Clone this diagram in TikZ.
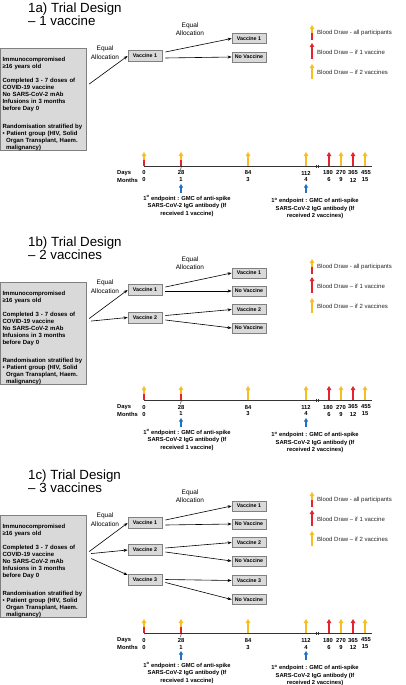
\documentclass[tikz,border=0pt]{standalone}
\usepackage{fontspec}
\setmainfont{Liberation Sans}
\usetikzlibrary{arrows.meta}
\definecolor{bdyellow}{RGB}{247,190,30}
\definecolor{bdred}{RGB}{228,35,45}
\definecolor{epblue}{RGB}{30,115,195}
\definecolor{boxfill}{RGB}{217,217,217}
\definecolor{boxline}{RGB}{128,128,128}
\tikzset{
  mainbox/.style={draw=boxline, fill=boxfill, line width=0.8pt, anchor=north west,
    minimum width=86pt, minimum height=96pt, text width=82.5pt, inner xsep=1.75pt, inner ysep=0pt,
    align=left, font=\fontsize{6.0}{7}\selectfont\bfseries},
  vbox/.style={draw=boxline, fill=boxfill, line width=0.8pt, minimum width=34pt,
    minimum height=11pt, inner sep=0pt, font=\fontsize{5.3}{6}\selectfont\bfseries},
  rbox/.style={vbox, minimum height=10pt},
  flow/.style={-{Stealth[length=4pt,width=3pt]}, line width=0.6pt, black},
  titletext/.style={anchor=base west, inner sep=0pt, font=\fontsize{13.3}{14}\selectfont},
  alloc/.style={align=center, inner sep=0pt, font=\fontsize{6.5}{8.5}\selectfont},
  legtext/.style={anchor=west, inner sep=0pt, font=\fontsize{6}{7}\selectfont, text=black!85},
  tllabel/.style={inner sep=0pt, font=\fontsize{5.8}{7}\selectfont\bfseries},
  eptext/.style={align=center, inner sep=0pt, font=\fontsize{5.8}{7.3}\selectfont\bfseries},
  yarr/.style={draw=bdyellow, line width=1.4pt, -{Triangle[length=4pt,width=4.5pt]}},
  rarr/.style={draw=bdred, line width=1.4pt, -{Triangle[length=4pt,width=4.5pt]}},
  rseg/.style={draw=bdred, line width=1.4pt},
  barr/.style={draw=epblue, line width=1.2pt, -{Triangle[length=3.5pt,width=4pt]}},
}
\newcommand\CommonPart[4]{%
\begin{scope}[shift={(0,#2)}]
  \node[titletext] (#1-t1) at (28,12.5) {#3};
  \node[titletext] (#1-t2) at (28,25.5) {#4};
  % main box
  \node[mainbox] (#1-main) at (0.4,48) {\rule{0pt}{13pt}Immunocompromised\\ ≥16 years old\\[7pt]
    Completed 3 - 7 doses of\\ COVID-19 vaccine\\ No SARS-CoV-2 mAb\\ Infusions in 3 months\\ before Day 0\\[11pt]
    Randomisation stratified by\\ \textbullet\ Patient group (HIV, Solid\\ \hspace*{3.5pt}Organ Transplant, Haem.\\ \hspace*{3.5pt}malignancy)};
  \node[alloc] (#1-al1) at (105,52.5) {Equal\\Allocation};
  \node[alloc] (#1-al2) at (190,29) {Equal\\Allocation};
  % legend
  \draw[rseg] (312,40) -- (312,32.5);
  \draw[yarr] (312,33) -- (312,25);
  \node[legtext] (#1-l1) at (317,33) {Blood Draw - all participants};
  \draw[rarr] (312,59) -- (312,43);
  \node[legtext] (#1-l2) at (317,52) {Blood Draw – if 1 vaccine};
  \draw[yarr] (312,79) -- (312,64);
  \node[legtext] (#1-l3) at (317,72) {Blood Draw – if 2 vaccines};
  % timeline
  \coordinate (#1-tls) at (144,166);
  \coordinate (#1-tle) at (372,166);
  \draw[line width=0.8pt, black!80] (#1-tls) -- (#1-tle);
  \draw[line width=0.5pt, black!80] (181.5,166) -- (180.5,170);
  \draw[line width=0.5pt, black!80] (316.5,164.5) -- (316.5,167.5) (318.5,164.5) -- (318.5,167.5);
  \draw[rseg] (144,166) -- (144,159);
  \draw[yarr] (144,159.5) -- (144,152);
  \draw[rseg] (181,166) -- (181,159);
  \draw[yarr] (181,159.5) -- (181,152);
  \draw[yarr] (248,166) -- (248,152);
  \draw[yarr] (306,166) -- (306,152);
  \draw[rarr] (329,166) -- (329,152);
  \draw[yarr] (341,166) -- (341,152);
  \draw[rarr] (353,166) -- (353,152);
  \draw[yarr] (365,166) -- (365,152);
  \node[tllabel, anchor=west] (#1-days) at (117,173) {Days};
  \node[tllabel, anchor=west] (#1-months) at (117,180) {Months};
  \node[tllabel] (#1-d0) at (144,173) {0};
  \node[tllabel] (#1-d28) at (181,173) {28};
  \node[tllabel] (#1-d84) at (248,173) {84};
  \node[tllabel] (#1-d112) at (306,173) {112};
  \node[tllabel] (#1-d180) at (328,173) {180};
  \node[tllabel] (#1-d270) at (341,173) {270};
  \node[tllabel] (#1-d365) at (353,173) {365};
  \node[tllabel] (#1-d455) at (366,173) {455};
  \node[tllabel] (#1-m0) at (144,180) {0};
  \node[tllabel] (#1-m1) at (181,180) {1};
  \node[tllabel] (#1-m3) at (248,180) {3};
  \node[tllabel] (#1-m4) at (306,180) {4};
  \node[tllabel] (#1-m6) at (329,180) {6};
  \node[tllabel] (#1-m9) at (341,180) {9};
  \node[tllabel] (#1-m12) at (353,180) {12};
  \node[tllabel] (#1-m15) at (365,180) {15};
  % endpoints
  \node[eptext] (#1-ep1) at (187,206) {1\textsuperscript{o} endpoint : GMC of anti-spike\\SARS-CoV-2 IgG antibody (If\\received 1 vaccine)};
  \node[eptext] (#1-ep2) at (315,208.5) {1\textsuperscript{o} endpoint : GMC of anti-spike\\SARS-CoV-2 IgG antibody (If\\received 2 vaccines)};
  \coordinate (#1-b1) at (181,184);
  \coordinate (#1-b2) at (306,184);
  \draw[barr] (181,192.5) -- (#1-b1);
  \draw[barr] (306,192.5) -- (#1-b2);
\end{scope}}
\begin{document}
\begin{tikzpicture}[x=1pt,y=-1pt]
\useasboundingbox (0,0) rectangle (405,685);
\fill[white] (0,0) rectangle (405,685);
% ---------- 1a ----------
\CommonPart{a}{0}{1a) Trial Design}{– 1 vaccine}
\node[vbox] (a-v1) at (145,56) {Vaccine 1};
\node[rbox] (a-r1) at (249,38.5) {Vaccine 1};
\node[rbox] (a-r2) at (249,57) {No Vaccine};
\draw[flow] ([shift={(2,-15.5)}]a-main.east) -- (a-v1.west);
\draw[flow] ([shift={(3,-4)}]a-v1.east) -- (a-r1.west);
\draw[flow] ([shift={(3,2)}]a-v1.east) -- (a-r2.west);
% ---------- 1b ----------
\CommonPart{b}{234}{1b) Trial Design}{– 2 vaccines}
\node[vbox] (b-v1) at (145,290) {Vaccine 1};
\node[vbox] (b-v2) at (145,317.5) {Vaccine 2};
\node[rbox] (b-r1) at (249,273) {Vaccine 1};
\node[rbox] (b-r2) at (249,291) {No Vaccine};
\node[rbox] (b-r3) at (249,309.5) {Vaccine 2};
\node[rbox] (b-r4) at (249,328) {No Vaccine};
\draw[flow] ([shift={(2,-15)}]b-main.east) -- (b-v1.west);
\draw[flow] ([shift={(4,-12.5)}]b-main.east) -- (b-v2.west);
\draw[flow] ([shift={(3,-3)}]b-v1.east) -- (b-r1.west);
\draw[flow] ([shift={(3,1)}]b-v1.east) -- (b-r2.west);
\draw[flow] ([shift={(3,-2)}]b-v2.east) -- (b-r3.west);
\draw[flow] ([shift={(3,2.5)}]b-v2.east) -- (b-r4.west);
% ---------- 1c ----------
\CommonPart{c}{467}{1c) Trial Design}{– 3 vaccines}
\node[vbox] (c-v1) at (145,523) {Vaccine 1};
\node[vbox] (c-v2) at (145,550) {Vaccine 2};
\node[vbox] (c-v3) at (145,579.5) {Vaccine 3};
\node[rbox] (c-r1) at (249,506) {Vaccine 1};
\node[rbox] (c-r2) at (249,524) {No Vaccine};
\node[rbox] (c-r3) at (249,542.5) {Vaccine 2};
\node[rbox] (c-r4) at (249,561) {No Vaccine};
\node[rbox] (c-r5) at (249,580.5) {Vaccine 3};
\node[rbox] (c-r6) at (249,599.5) {No Vaccine};
\draw[flow] ([shift={(2,-15)}]c-main.east) -- (c-v1.west);
\draw[flow] ([shift={(4,-13)}]c-main.east) -- (c-v2.west);
\draw[flow] ([shift={(4,-8)}]c-main.east) -- ([yshift=4.5pt]c-v3.west);
\draw[flow] ([shift={(3,-3)}]c-v1.east) -- (c-r1.west);
\draw[flow] ([shift={(3,2)}]c-v1.east) -- (c-r2.west);
\draw[flow] ([shift={(3,-2)}]c-v2.east) -- (c-r3.west);
\draw[flow] ([shift={(3,2)}]c-v2.east) -- (c-r4.west);
\draw[flow] ([shift={(3,0)}]c-v3.east) -- (c-r5.west);
\draw[flow] ([shift={(3,3)}]c-v3.east) -- (c-r6.west);
\end{tikzpicture}
\end{document}
